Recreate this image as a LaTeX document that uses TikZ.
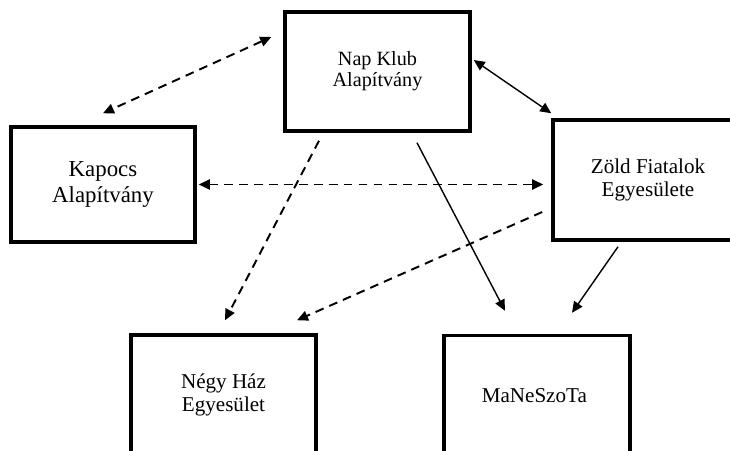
\documentclass[tikz,border=0pt]{standalone}
\usepackage{fontspec}
\setmainfont{Liberation Serif}
\usetikzlibrary{arrows.meta}

\begin{document}
\begin{tikzpicture}[
        font=\fontsize{12}{13}\selectfont,
        box/.style={
            rectangle, draw=black, line width=2pt,
            minimum height=2.4cm, minimum width=3.7cm,
            text centered, align=center
        },
        arrow/.style={->, >={Triangle[length=2.2mm,width=2mm]}, line width=0.8pt},
        darrow/.style={<->, >={Triangle[length=2.2mm,width=2mm]}, line width=1.1pt,
            dash pattern=on 5pt off 3.5pt},
        sarrow/.style={->, >={Triangle[length=2.2mm,width=2mm]}, line width=1.1pt,
            dash pattern=on 5pt off 3.5pt}
    ]

        \useasboundingbox (0,0) rectangle (14.6,9);

        % Felső sor
        \node[box, minimum width=3.7cm, minimum height=2.38cm,
              font=\fontsize{11.5}{12}\selectfont] (nap) at (7.55,7.57) {
            Nap Klub\\
            Alapítvány
        };

        % Középső sor
        \node[box, minimum width=3.68cm, minimum height=2.3cm,
              font=\fontsize{13}{15}\selectfont] (kapocs) at (2.06,5.31) {
            Kapocs\\
            Alapítvány
        };

        \node[box, minimum width=3.8cm, minimum height=2.4cm] (zold) at (12.96,5.4) {
            Zöld Fiatalok\\
            Egyesülete
        };

        % Alsó sor
        \node[box, minimum width=3.7cm, minimum height=2.4cm] (negy) at (4.47,1.1) {
            Négy Ház\\
            Egyesület
        };

        \node[box, minimum width=3.72cm, minimum height=2.4cm] (manesz) at (10.74,1.09) {
            MaNeSzoTa
        };

        % Kétirányú kapcsolatok
        \draw[darrow] ([shift={(-0.24,0.69)}]nap.west) -- ([yshift=0.24cm]kapocs.north);
        \draw[<->, >={Triangle[length=2.2mm,width=2mm]}, line width=0.8pt]
            ([shift={(0.04,0.23)}]nap.east) -- ([yshift=0.1cm]zold.north west);
        \draw[darrow] ([xshift=0.04cm]kapocs.east) -- ([xshift=-0.16cm]kapocs.east -| zold.west);

        % Egyirányú kapcsolatok
        \draw[sarrow] ([shift={(-1.17,-0.16)}]nap.south) -- ([shift={(0.03,0.26)}]negy.north);
        \draw[arrow] ([shift={(0.79,-0.2)}]nap.south) -- ([shift={(-0.64,0.46)}]manesz.north);
        \draw[sarrow] ([shift={(-0.18,-0.64)}]zold.west) -- ([shift={(1.47,0.26)}]negy.north);
        \draw[arrow] ([shift={(-0.6,-0.1)}]zold.south) -- ([shift={(0.7,0.42)}]manesz.north);

    \end{tikzpicture}
\end{document}
